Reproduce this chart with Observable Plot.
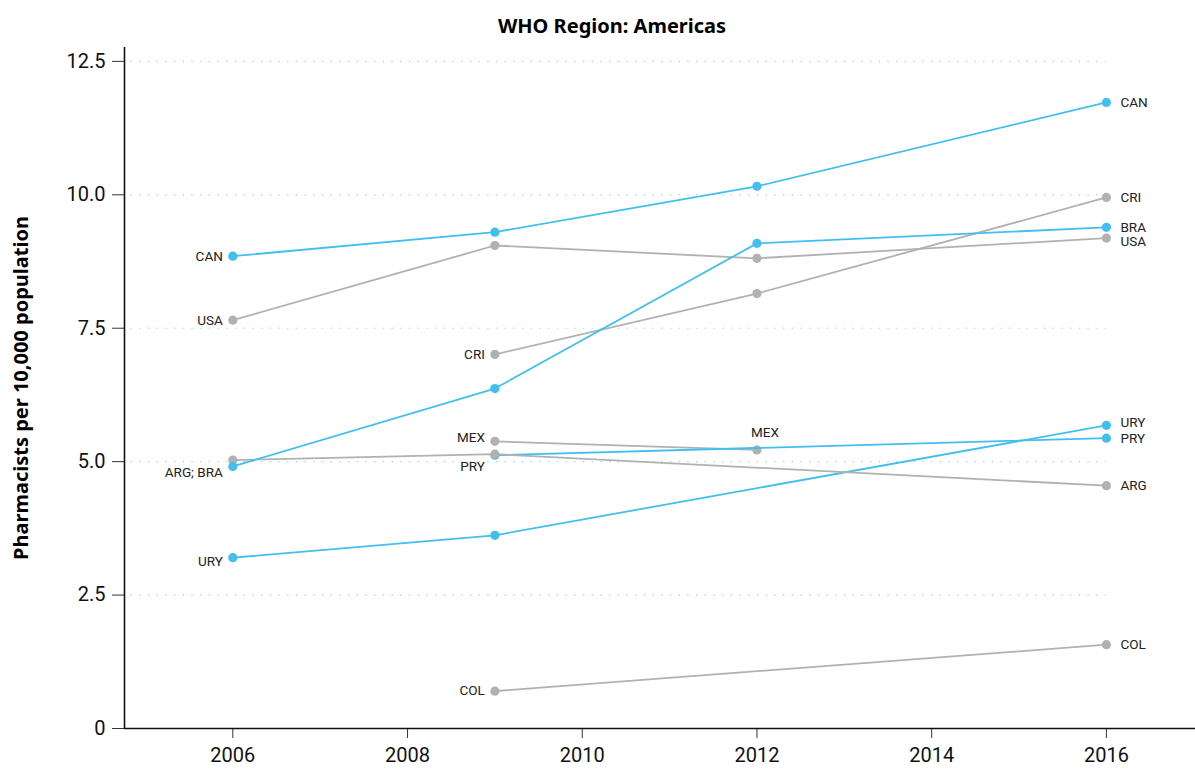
<!DOCTYPE html>
<html>
<head>
<meta charset="utf-8">
<script src="https://cdn.jsdelivr.net/npm/d3@7"></script>
<script src="https://cdn.jsdelivr.net/npm/@observablehq/plot@0.6"></script>
<style>
  html, body { margin: 0; padding: 0; background: #fff; }
  #chart svg { display: block; font-family: "Noto Sans", sans-serif; }
  g[aria-label="y-axis label"] text { font-weight: 700; font-size: 20px; fill: #000; font-family: "Noto Sans", sans-serif; }
</style>
</head>
<body>
<div id="chart"></div>
<script>
// ---- data ----
const title = "WHO Region: Americas";
const yLabel = "Pharmacists per 10,000 population";
const years = [2006, 2009, 2012, 2016];
const countries = ["CAN", "USA", "CRI", "MEX", "COL", "URY", "PRY", "ARG", "BRA"];
const highlighted = ["CAN", "BRA", "PRY", "URY"];
const CAN = [8.85, 9.30, 10.16, 11.73];
const USA = [7.65, 9.05, 8.81, 9.19];
const CRI = [null, 7.01, 8.15, 9.95];
const BRA = [4.91, 6.37, 9.09, 9.39];
const ARG = [5.03, 5.14, null, 4.55];
const MEX = [null, 5.38, 5.22, null];
const PRY = [null, 5.12, null, 5.44];
const URY = [3.20, 3.62, null, 5.68];
const COL = [null, 0.70, null, 1.57];
const xTicks = [2006, 2008, 2010, 2012, 2014, 2016];
const yTicks = [0, 2.5, 5, 7.5, 10, 12.5];
const gridValues = [2.5, 5, 7.5, 10, 12.5];

// ---- styling ----
const BLUE = "#41bfef";
const GREY = "#b1b1b1";
const xDomain = [2004.76, 2017.02];
const yDomain = [0, 12.76];

const series = {CAN, USA, CRI, BRA, ARG, MEX, PRY, URY, COL};
const rows = [];
for (const c of countries) {
  series[c].forEach((v, i) => {
    if (v != null) rows.push({country: c, year: years[i], value: v, hi: highlighted.includes(c)});
  });
}

// label nudges (pixels)
const startNudge = {"CAN": 0, "USA": 0, "CRI": 0, "MEX": -4, "PRY": 11, "URY": 4, "COL": 0};
const endNudge = {"CAN": 0, "CRI": 0, "BRA": 0, "USA": 4, "URY": -3, "PRY": 1, "ARG": 0, "COL": 0};

const labelMarks = [];
// start labels
const starts = countries.map(c => rows.find(r => r.country === c));
const mergedDone = new Set();
for (const s of starts) {
  if (mergedDone.has(s.country)) continue;
  const group = starts.filter(o => o.year === s.year && Math.abs(o.value - s.value) < 0.2);
  group.forEach(g => mergedDone.add(g.country));
  const names = group.map(g => g.country).sort();
  const text = names.join("; ");
  const y = group.length > 1 ? d3.min(group, g => g.value) : s.value;
  const dy = group.length > 1 ? 6 : (startNudge[s.country] ?? 0);
  labelMarks.push(Plot.text([{year: s.year, value: y, t: text}], {
    x: "year", y: "value", text: "t", textAnchor: "end", dx: -10, dy,
    fontSize: 13.5, fill: "#222"
  }));
}
// end labels
for (const c of countries) {
  const pts = rows.filter(r => r.country === c);
  const e = pts[pts.length - 1];
  if (e.year === d3.max(years)) {
    labelMarks.push(Plot.text([{year: e.year, value: e.value, t: c}], {
      x: "year", y: "value", text: "t", textAnchor: "start", dx: 14, dy: endNudge[c] ?? 0,
      fontSize: 13.5, fill: "#222"
    }));
  } else {
    labelMarks.push(Plot.text([{year: e.year, value: e.value, t: c}], {
      x: "year", y: "value", text: "t", textAnchor: "middle", dx: 8, dy: -17,
      fontSize: 13.5, fill: "#222"
    }));
  }
}

const lineMarks = [];
const dotMarks = [];
for (const c of countries) {
  const data = rows.filter(r => r.country === c);
  const col = highlighted.includes(c) ? BLUE : GREY;
  lineMarks.push(Plot.line(data, {x: "year", y: "value", stroke: col, strokeWidth: 1.8}));
  dotMarks.push(Plot.dot(data, {x: "year", y: "value", fill: col, r: 4.6}));
}
const seriesMarks = [];
countries.forEach((c, i) => { seriesMarks.push(lineMarks[i], dotMarks[i]); });

const chart = Plot.plot({
  width: 1195,
  height: 780,
  marginLeft: 124,
  marginRight: 0,
  marginTop: 47,
  marginBottom: 52,
  style: {fontFamily: "Roboto, sans-serif", background: "#fff", color: "#111"},
  x: {domain: xDomain},
  y: {domain: yDomain},
  marks: [
    Plot.ruleY(gridValues, {x1: xDomain[0], x2: d3.max(years), stroke: "#8fd6f3", strokeWidth: 1.2, strokeDasharray: "1.3 7.4", strokeDashoffset: -6.5}),
    Plot.axisX({ticks: xTicks, tickFormat: d => String(d), tickSize: 10, tickPadding: 9, fontSize: 20, label: null, stroke: "#333"}),
    Plot.axisY({ticks: yTicks, tickFormat: d => d === 0 ? "0" : d.toFixed(1), tickSize: 12, tickPadding: 7, fontSize: 20,
      label: yLabel, labelAnchor: "center", labelArrow: "none", labelOffset: 111, stroke: "#333"}),
    Plot.ruleY([yDomain[0]], {stroke: "#111", strokeWidth: 1.6}),
    Plot.ruleX([xDomain[0]], {stroke: "#111", strokeWidth: 1.6}),
    ...seriesMarks,
    ...labelMarks,
    Plot.text([title], {frameAnchor: "top", dy: -29, dx: -48, fontWeight: "bold", fontSize: 20, fill: "#000", fontFamily: "Noto Sans, sans-serif"})
  ]
});
document.getElementById("chart").appendChild(chart);
</script>
</body>
</html>
